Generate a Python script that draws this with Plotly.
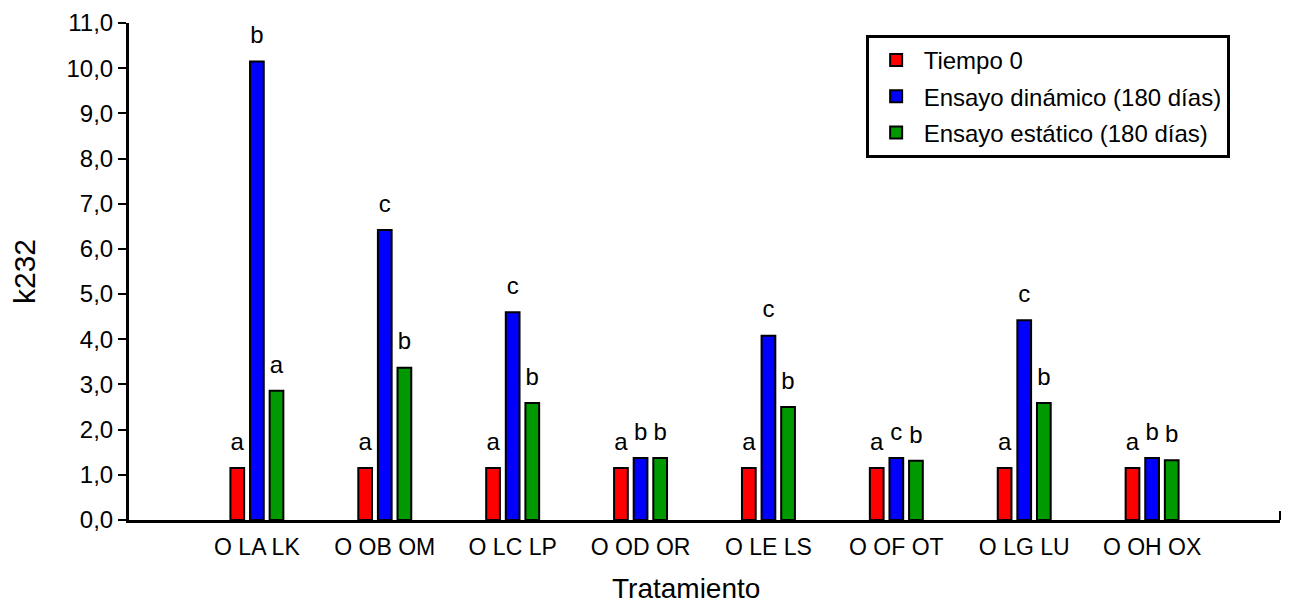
import plotly.graph_objects as go

categories = ["O LA LK", "O OB OM", "O LC LP", "O OD OR", "O LE LS", "O OF OT", "O LG LU", "O OH OX"]
series_names = ["Tiempo 0", "Ensayo dinámico (180 días)", "Ensayo estático (180 días)"]
tiempo0 = [1.15, 1.15, 1.15, 1.15, 1.15, 1.15, 1.15, 1.15]
dinamico = [10.15, 6.42, 4.60, 1.37, 4.08, 1.37, 4.42, 1.37]
estatico = [2.86, 3.37, 2.59, 1.37, 2.50, 1.31, 2.59, 1.32]
letras_t0 = ["a", "a", "a", "a", "a", "a", "a", "a"]
letras_din = ["b", "c", "c", "b", "c", "c", "c", "b"]
letras_est = ["a", "b", "b", "b", "b", "b", "b", "b"]
colors = ["#FF0000", "#0000FF", "#009900"]

FONT = "Liberation Sans, Arial, sans-serif"

fig = go.Figure()
series = list(zip(series_names, [tiempo0, dinamico, estatico], [letras_t0, letras_din, letras_est]))
for i, (name, vals, labs) in enumerate(series):
    fig.add_trace(go.Bar(
        x=categories, y=vals, name=name,
        marker=dict(color=colors[i], line=dict(color="black", width=2)),
        legendgroup=f"g{i}",
    ))
# significance letters, aligned to the grouped bars
for i, (name, vals, labs) in enumerate(series):
    fig.add_trace(go.Scatter(
        x=categories, y=vals, text=labs, mode="markers+text",
        textposition="top center", cliponaxis=False,
        marker=dict(size=18, color="rgba(0,0,0,0)"),
        textfont=dict(size=24, color="black", family=FONT),
        showlegend=False, hoverinfo="skip",
    ))

fig.update_layout(
    width=1282, height=597,
    margin=dict(l=121, r=10, t=15, b=85),
    paper_bgcolor="white", plot_bgcolor="white",
    barmode="group", bargap=0.54, bargroupgap=0.3,
    scattermode="group", scattergap=0.54,
    separators=",.",
    font=dict(family=FONT, color="black"),
    showlegend=True,
    legend=dict(
        x=0.64, y=0.976, xanchor="left", yanchor="top",
        bordercolor="black", borderwidth=3, bgcolor="white",
        font=dict(size=24, family=FONT),
        tracegroupgap=2, traceorder="grouped", itemwidth=45,
    ),
    xaxis=dict(
        range=[-1, 8], showline=True, linecolor="black", linewidth=3,
        ticks="", showgrid=False, zeroline=False, automargin=False,
        tickfont=dict(size=23, family=FONT), ticklabelstandoff=4,
    ),
    yaxis=dict(
        range=[0, 11], dtick=1, tick0=0, tickformat=".1f",
        showline=True, linecolor="black", linewidth=3,
        ticks="outside", ticklen=8, tickwidth=2, tickcolor="black",
        showgrid=False, zeroline=False, automargin=False,
        tickfont=dict(size=24, family=FONT),
        title=dict(text="k232", font=dict(size=30, family=FONT), standoff=40),
    ),
    annotations=[dict(
        text="Tratamiento", xref="paper", yref="paper", x=0.484, y=-0.137,
        xanchor="center", yanchor="middle", showarrow=False,
        font=dict(size=28, family=FONT, color="black"),
    )],
    shapes=[dict(type="line", xref="paper", yref="y", x0=1, x1=1, y0=0, y1=0.2,
                 line=dict(color="black", width=2))],
)

fig.write_html("out.html")
